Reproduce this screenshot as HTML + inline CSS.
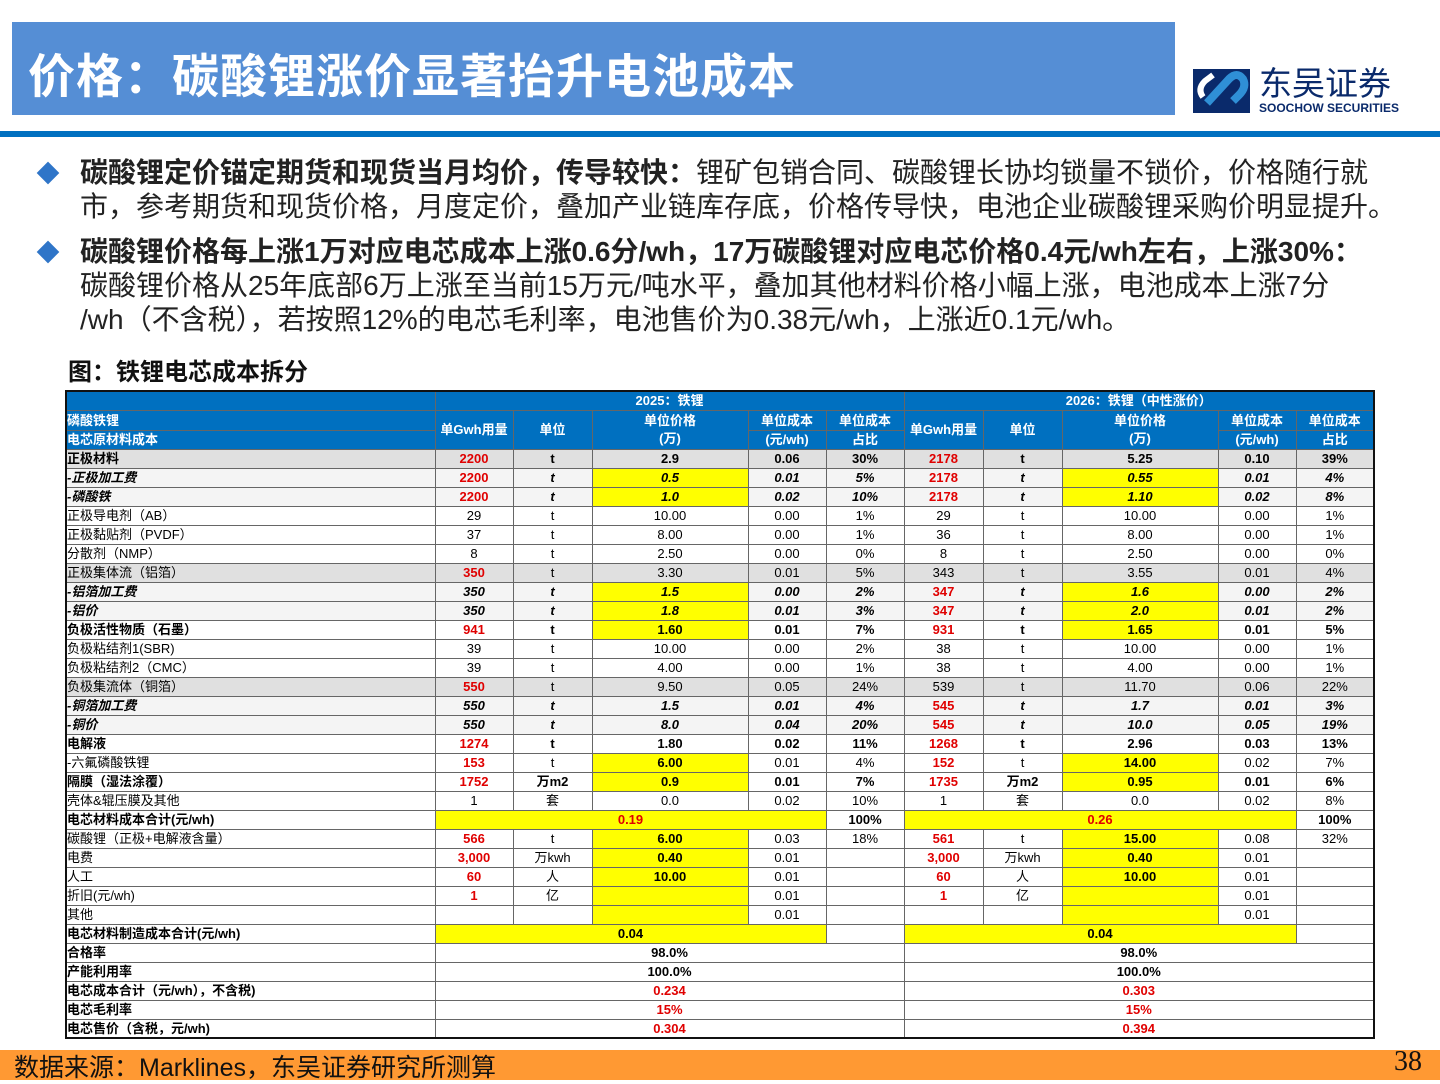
<!DOCTYPE html>
<html><head><meta charset="utf-8">
<style>
*{margin:0;padding:0;box-sizing:border-box}
body{width:1440px;height:1080px;position:relative;background:#fff;font-family:"Liberation Sans","Noto Sans CJK SC",sans-serif;overflow:hidden}
#titlebar{position:absolute;left:12px;top:22px;width:1163px;height:93px;background:#558ed5}
#title{position:absolute;left:28px;top:38px;color:#fff;font-size:47px;font-weight:bold;letter-spacing:1px}
#rule{position:absolute;left:0;top:131px;width:1440px;height:6px;background:#0070c0}
.logo{position:absolute;left:1193px;top:67px}
.bul{position:absolute;left:80px;font-size:28px;line-height:34px;color:#222;width:1360px;white-space:nowrap}
.dia{position:absolute;left:40px;width:16px;height:16px;background:#2f75c8;transform:rotate(45deg)}
#cap{position:absolute;left:68px;top:352px;font-size:24px;font-weight:bold;color:#111}
#tbl{position:absolute;left:65px;top:390px;border-collapse:collapse;table-layout:fixed;font-size:13px;border:2px solid #111}
#tbl td{border:1px solid #666;height:19px;text-align:center;padding:0;white-space:nowrap;overflow:hidden;line-height:17px}
#tbl td.lab{text-align:left}
#tbl .hd td{background:#0070c0;color:#fff;font-weight:bold}
#tbl td.r{color:#e00000;font-weight:bold}
#tbl td.y{background:#ffff00;font-weight:bold}
.b{font-weight:bold}
.bi{font-weight:bold;font-style:italic}
.g td{background:#e0e0e0}
.lg td{background:#f4f4f4}
#foot{position:absolute;left:0;top:1050px;width:1440px;height:30px;background:#ff9933}
#foottxt{position:absolute;left:14px;top:1048px;font-size:25px;color:#111}
#page{position:absolute;right:18px;top:1046px;font-size:28px;font-family:"Liberation Serif",serif;color:#111}
</style></head><body>
<div id="titlebar"></div>
<div id="title">价格：碳酸锂涨价显著抬升电池成本</div>
<svg class="logo" width="210" height="50">
<rect x="0" y="2" width="57" height="44" fill="#0a2a6b"/>
<path d="M14 36 L36 12 Q44 4 50 12 Q54 20 46 28 L40 34" stroke="#2f8fd6" stroke-width="8" fill="none"/>
<path d="M10 30 Q4 22 12 14 L20 8" stroke="#fff" stroke-width="6" fill="none"/>
<text x="66" y="28" font-size="33" fill="#0a2a6b" font-family="Noto Sans CJK SC,sans-serif">东吴证券</text>
<text x="66" y="45" font-size="12" font-weight="bold" fill="#0a2a6b" font-family="Liberation Sans,sans-serif">SOOCHOW SECURITIES</text>
</svg>
<div id="rule"></div>

<div class="dia" style="top:165px"></div>
<div class="bul" style="top:156px"><b>碳酸锂定价锚定期货和现货当月均价，传导较快：</b>锂矿包销合同、碳酸锂长协均锁量不锁价，价格随行就<br>市，参考期货和现货价格，月度定价，叠加产业链库存底，价格传导快，电池企业碳酸锂采购价明显提升。</div>
<div class="dia" style="top:244px"></div>
<div class="bul" style="top:235px"><b>碳酸锂价格每上涨1万对应电芯成本上涨0.6分/wh，17万碳酸锂对应电芯价格0.4元/wh左右，上涨30%：</b><br>碳酸锂价格从25年底部6万上涨至当前15万元/吨水平，叠加其他材料价格小幅上涨，电池成本上涨7分<br>/wh（不含税），若按照12%的电芯毛利率，电池售价为0.38元/wh，上涨近0.1元/wh。</div>
<div id="cap">图：铁锂电芯成本拆分</div>

<table id="tbl">
<colgroup><col style="width:369px"><col style="width:78px"><col style="width:79px"><col style="width:156px"><col style="width:78px"><col style="width:78px"><col style="width:79px"><col style="width:79px"><col style="width:156px"><col style="width:78px"><col style="width:78px"></colgroup>
<tbody id="tb"></tbody>
</table>

<div id="foot"></div>
<div id="foottxt">数据来源：Marklines，东吴证券研究所测算</div>
<div id="page">38</div>

<script>
const rows = [
["正极材料","b","g",["2200r","t","2.9","0.06","30%"],["2178r","t","5.25","0.10","39%"]],
["-正极加工费","bi","lg",["2200r","t","0.5Y","0.01","5%"],["2178r","t","0.55Y","0.01","4%"]],
["-磷酸铁","bi","lg",["2200r","t","1.0Y","0.02","10%"],["2178r","t","1.10Y","0.02","8%"]],
["正极导电剂（AB）","","",["29","t","10.00","0.00","1%"],["29","t","10.00","0.00","1%"]],
["正极黏贴剂（PVDF）","","",["37","t","8.00","0.00","1%"],["36","t","8.00","0.00","1%"]],
["分散剂（NMP）","","",["8","t","2.50","0.00","0%"],["8","t","2.50","0.00","0%"]],
["正极集体流（铝箔）","","g",["350r","t","3.30","0.01","5%"],["343","t","3.55","0.01","4%"]],
["-铝箔加工费","bi","lg",["350","t","1.5Y","0.00","2%"],["347r","t","1.6Y","0.00","2%"]],
["-铝价","bi","lg",["350","t","1.8Y","0.01","3%"],["347r","t","2.0Y","0.01","2%"]],
["负极活性物质（石墨）","b","",["941r","t","1.60Y","0.01","7%"],["931r","t","1.65Y","0.01","5%"]],
["负极粘结剂1(SBR)","","",["39","t","10.00","0.00","2%"],["38","t","10.00","0.00","1%"]],
["负极粘结剂2（CMC）","","",["39","t","4.00","0.00","1%"],["38","t","4.00","0.00","1%"]],
["负极集流体（铜箔）","","g",["550r","t","9.50","0.05","24%"],["539","t","11.70","0.06","22%"]],
["-铜箔加工费","bi","lg",["550","t","1.5","0.01","4%"],["545r","t","1.7","0.01","3%"]],
["-铜价","bi","lg",["550","t","8.0","0.04","20%"],["545r","t","10.0","0.05","19%"]],
["电解液","b","",["1274r","t","1.80","0.02","11%"],["1268r","t","2.96","0.03","13%"]],
["-六氟磷酸铁锂","","",["153r","t","6.00Y","0.01","4%"],["152r","t","14.00Y","0.02","7%"]],
["隔膜（湿法涂覆）","b","",["1752r","万m2","0.9Y","0.01","7%"],["1735r","万m2","0.95Y","0.01","6%"]],
["壳体&辊压膜及其他","","",["1","套","0.0","0.02","10%"],["1","套","0.0","0.02","8%"]],
["电芯材料成本合计(元/wh)","b","",["S4","0.19","R","100%"],["S4","0.26","R","100%"]],
["碳酸锂（正极+电解液含量）","","",["566r","t","6.00Y","0.03","18%"],["561r","t","15.00Y","0.08","32%"]],
["电费","","",["3,000r","万kwh","0.40Y","0.01",""],["3,000r","万kwh","0.40Y","0.01",""]],
["人工","","",["60r","人","10.00Y","0.01",""],["60r","人","10.00Y","0.01",""]],
["折旧(元/wh)","","",["1r","亿","Y","0.01",""],["1r","亿","Y","0.01",""]],
["其他","","",["","","Y","0.01",""],["","","Y","0.01",""]],
["电芯材料制造成本合计(元/wh)","b","",["S4","0.04","K",""],["S4","0.04","K",""]],
["合格率","b","",["S5","98.0%","K"],["S5","98.0%","K"]],
["产能利用率","b","",["S5","100.0%","K"],["S5","100.0%","K"]],
["电芯成本合计（元/wh），不含税)","b","",["S5","0.234","R"],["S5","0.303","R"]],
["电芯毛利率","b","",["S5","15%","R"],["S5","15%","R"]],
["电芯售价（含税，元/wh)","b","",["S5","0.304","R"],["S5","0.394","R"]]
];
const tb=document.getElementById('tb');
function td(tr,html,cls,span){const c=document.createElement('td');c.innerHTML=html;if(cls)c.className=cls;if(span)c.colSpan=span;tr.appendChild(c);return c;}
let h1=document.createElement('tr');h1.className='hd';


td(h1,'');td(h1,'2025：铁锂','',5);td(h1,'2026：铁锂（中性涨价）','',5);tb.appendChild(h1);
let h2=document.createElement('tr');h2.className='hd';


let h3=document.createElement('tr');h3.className='hd';


td(h2,'磷酸铁锂','lab');td(h3,'电芯原材料成本','lab');
for(let k=0;k<2;k++){
 let a=td(h2,'单Gwh用量');a.rowSpan=2;
 let b=td(h2,'单位');b.rowSpan=2;
 let c=td(h2,'单位价格<br>(万)');c.rowSpan=2;c.style.lineHeight='18px';
 td(h2,'单位成本');td(h2,'单位成本');td(h3,'(元/wh)');td(h3,'占比');
}
h2.querySelectorAll('td').forEach(c=>c.style.height='20px');
tb.appendChild(h2);tb.appendChild(h3);
rows.forEach(r=>{
 const tr=document.createElement('tr');
 
 
 if(r[2])tr.className=r[2];
 td(tr,r[0],'lab '+(r[1]||''));
 [r[3],r[4]].forEach(s=>{
  if(s[0]==='S4'){td(tr,s[1],'y b'+(s[2]==='R'?' r':''),4);td(tr,s[3],'b');return;}
  if(s[0]==='S5'){td(tr,s[1],'b'+(s[2]==='R'?' r':''),5);return;}
  let g=s[0],gc='';if(g.endsWith('r')){g=g.slice(0,-1);gc='r';}
  td(tr,g,gc||r[1]);
  td(tr,s[1],r[1]);
  let p=s[2],pc=r[1];if(p.endsWith('Y')){p=p.slice(0,-1);pc+=' y';}
  td(tr,p,pc);td(tr,s[3],r[1]);td(tr,s[4],r[1]);
 });
 tb.appendChild(tr);
});
</script>
</body></html>
